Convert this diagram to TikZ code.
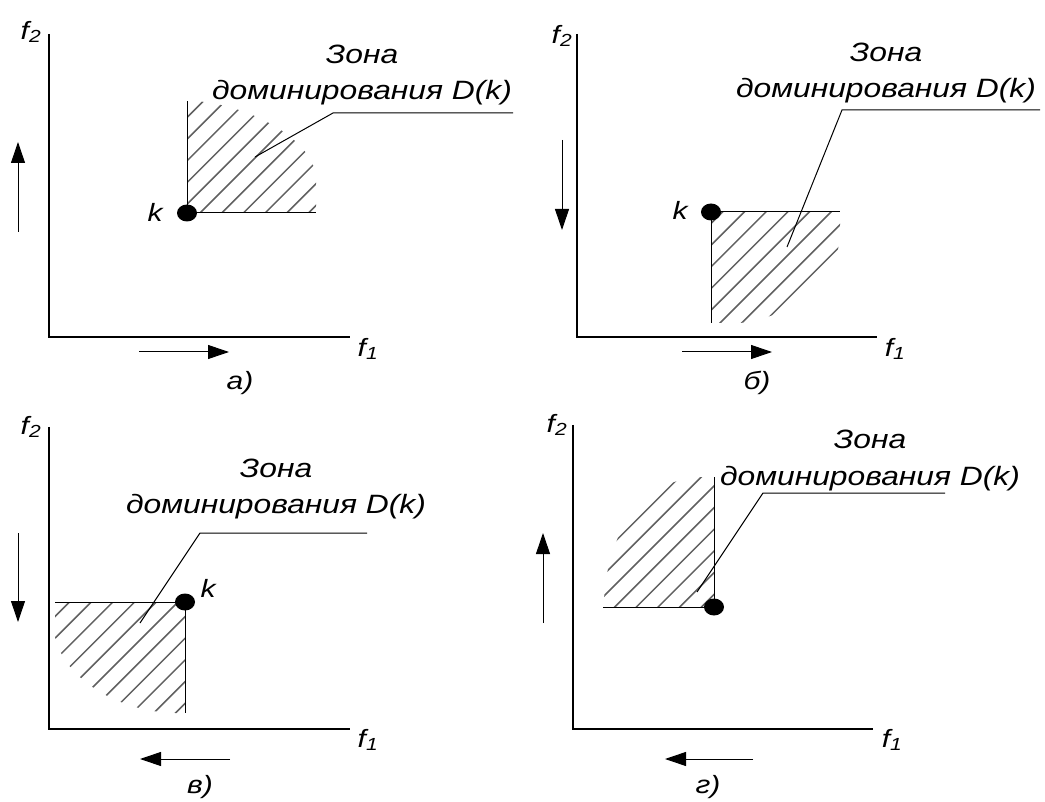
\documentclass[tikz,border=0pt]{standalone}
\usepackage{fontspec}
\setmainfont{Liberation Sans}[FakeStretch=1.2]
\usetikzlibrary{arrows.meta,shapes.geometric}
\begin{document}
\begin{tikzpicture}[x=1pt,y=-1pt,
  axis/.style={line width=2pt},
  edge/.style={line width=1pt},
  leader/.style={line width=1pt},
  dirarrow/.style={line width=1pt,-{Triangle[length=21pt,width=14pt]}},
  hatchline/.style={line width=1.5pt,gray!75!black},
  dot/.style={ellipse,fill=black,minimum width=20pt,minimum height=17pt,inner sep=0pt},
  lbl/.style={font=\fontsize{25}{30}\selectfont\itshape,inner sep=0pt},
  zone/.style={font=\fontsize{26.5}{36}\selectfont\itshape,align=center,inner sep=0pt,anchor=base},
  ]
\useasboundingbox (0,0) rectangle (1045,802);

% ---------------- panel a ----------------
\begin{scope}
\clip (187,213) -- (187,101) -- (195,101) .. controls (250,105) and (316,140) .. (316,180) -- (316,213) -- cycle;
\foreach \n in {-8,...,8} \draw[hatchline] ({413+21.7*\n-800},800) -- ({413+21.7*\n},0);
\end{scope}
\coordinate (aO) at (49,337); \coordinate (aY) at (49,34); \coordinate (aX) at (350,337);
\draw[axis] (aY) -- (aO) -- (aX);
\node[lbl] (af2) at (31,32) {f\textsubscript{2}};
\node[lbl] (af1) at (368,349) {f\textsubscript{1}};
\coordinate (aua) at (18,232); \coordinate (aub) at (18,142);
\draw[dirarrow] (aua) -- (aub);
\coordinate (ara) at (139,352); \coordinate (arb) at (229,352);
\draw[dirarrow] (ara) -- (arb);
\node[lbl] (acap) at (240,383) {а)};
\node[dot] (ak) at (187,213) {};
\coordinate (akv) at (187,101); \coordinate (akh) at (316,213);
\draw[edge] (ak.center) -- (akv); \draw[edge] (ak.center) -- (akh);
\node[lbl] (akl) at (155,212) {k};
\node[zone] (az) at (362,100) {Зона\\доминирования D(k)};
\coordinate (al1) at (255,157); \coordinate (al2) at (333,113); \coordinate (al3) at (513,113);
\draw[leader] (al1) -- (al2) -- (al3);

% ---------------- panel b ----------------
\begin{scope}
\clip (711,212) -- (840,212) -- (840,233) .. controls (840,280) and (790,318) .. (740,323) -- (711,323) -- cycle;
\foreach \n in {-8,...,8} \draw[hatchline] ({1043+21.7*\n-800},800) -- ({1043+21.7*\n},0);
\end{scope}
\coordinate (bO) at (577,337); \coordinate (bY) at (577,34); \coordinate (bX) at (877,337);
\draw[axis] (bY) -- (bO) -- (bX);
\node[lbl] (bf2) at (562,36) {f\textsubscript{2}};
\node[lbl] (bf1) at (895,349) {f\textsubscript{1}};
\coordinate (bua) at (562,140); \coordinate (bub) at (562,230);
\draw[dirarrow] (bua) -- (bub);
\coordinate (bra) at (682,352); \coordinate (brb) at (772,352);
\draw[dirarrow] (bra) -- (brb);
\node[lbl] (bcap) at (757,383) {б)};
\node[dot] (bk) at (711,212) {};
\coordinate (bkv) at (711,323); \coordinate (bkh) at (840,212);
\draw[edge] (bk.center) -- (bkv); \draw[edge] (bk.center) -- (bkh);
\node[lbl] (bkl) at (680,210) {k};
\node[zone] (bz) at (886,98) {Зона\\доминирования D(k)};
\coordinate (bl1) at (787,247); \coordinate (bl2) at (842,110); \coordinate (bl3) at (1040,110);
\draw[leader] (bl1) -- (bl2) -- (bl3);

% ---------------- panel v ----------------
\begin{scope}
\clip (185,602) -- (55,602) -- (55,637) .. controls (65,680) and (120,712) .. (175,713) -- (185,713) -- cycle;
\foreach \n in {-8,...,8} \draw[hatchline] ({780+21.7*\n-800},800) -- ({780+21.7*\n},0);
\end{scope}
\coordinate (vO) at (49,729); \coordinate (vY) at (49,427); \coordinate (vX) at (350,729);
\draw[axis] (vY) -- (vO) -- (vX);
\node[lbl] (vf2) at (31,427) {f\textsubscript{2}};
\node[lbl] (vf1) at (368,740) {f\textsubscript{1}};
\coordinate (vua) at (18,533); \coordinate (vub) at (18,622);
\draw[dirarrow] (vua) -- (vub);
\coordinate (vra) at (230,759); \coordinate (vrb) at (140,759);
\draw[dirarrow] (vra) -- (vrb);
\node[lbl] (vcap) at (200,787) {в)};
\node[dot] (vk) at (185,602) {};
\coordinate (vkv) at (185,713); \coordinate (vkh) at (55,602);
\draw[edge] (vk.center) -- (vkv); \draw[edge] (vk.center) -- (vkh);
\node[lbl] (vkl) at (208,588) {k};
\node[zone] (vz) at (276,513) {Зона\\доминирования D(k)};
\coordinate (vl1) at (140,623); \coordinate (vl2) at (200,533); \coordinate (vl3) at (367,533);
\draw[leader] (vl1) -- (vl2) -- (vl3);

% ---------------- panel g ----------------
\begin{scope}
\clip (714,607) -- (603,607) -- (606,580) .. controls (615,520) and (650,477) .. (705,477) -- (714,477) -- cycle;
\foreach \n in {-8,...,8} \draw[hatchline] ({1200+21.7*\n-800},800) -- ({1200+21.7*\n},0);
\end{scope}
\coordinate (gO) at (573,729); \coordinate (gY) at (573,425); \coordinate (gX) at (873,729);
\draw[axis] (gY) -- (gO) -- (gX);
\node[lbl] (gf2) at (557,425) {f\textsubscript{2}};
\node[lbl] (gf1) at (892,740) {f\textsubscript{1}};
\coordinate (gua) at (543,623); \coordinate (gub) at (543,533);
\draw[dirarrow] (gua) -- (gub);
\coordinate (gra) at (753,759); \coordinate (grb) at (665,759);
\draw[dirarrow] (gra) -- (grb);
\node[lbl] (gcap) at (708,787) {г)};
\node[dot] (gk) at (714,607) {};
\coordinate (gkv) at (714,477); \coordinate (gkh) at (603,607);
\draw[edge] (gk.center) -- (gkv); \draw[edge] (gk.center) -- (gkh);
\node[zone] (gz) at (870,485) {Зона\\доминирования D(k)};
\coordinate (gl1) at (697,592); \coordinate (gl2) at (763,493); \coordinate (gl3) at (945,493);
\draw[leader] (gl1) -- (gl2) -- (gl3);
\end{tikzpicture}
\end{document}
